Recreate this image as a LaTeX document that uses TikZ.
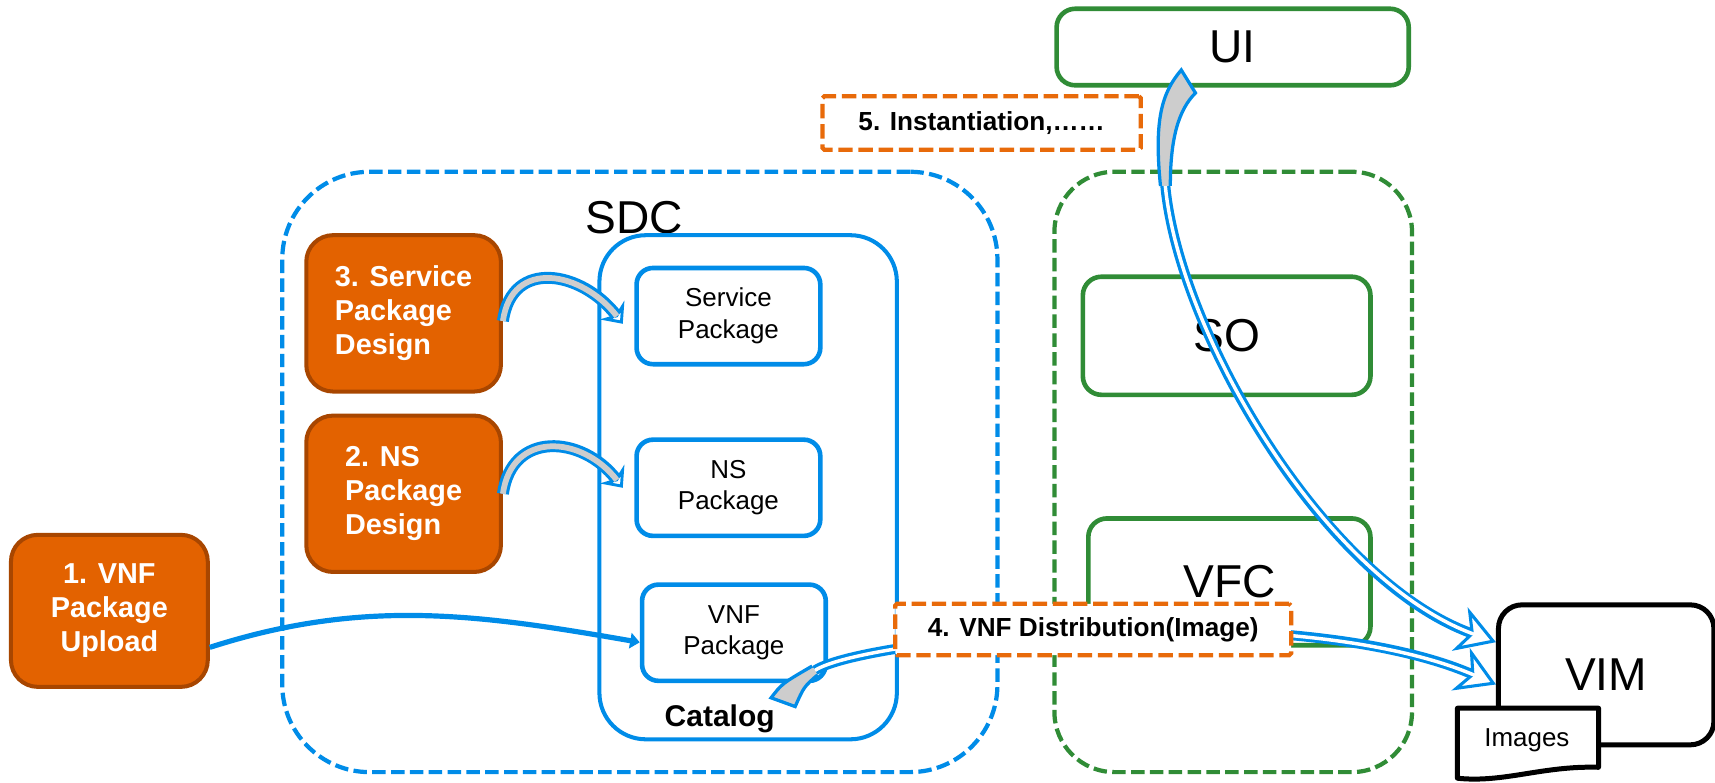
\documentclass[tikz,border=0pt]{standalone}
\usepackage{fontspec}
\setmainfont{Liberation Sans}
\usetikzlibrary{arrows.meta,positioning}
\definecolor{sdcblue}{RGB}{0,140,232}
\definecolor{ogreen}{RGB}{48,140,54}
\definecolor{stepfill}{RGB}{227,98,0}
\definecolor{stepline}{RGB}{168,70,0}
\definecolor{noteorange}{RGB}{232,106,10}
\definecolor{bandgray}{RGB}{205,205,205}

\begin{document}
\begin{tikzpicture}[x=0.02cm,y=-0.02cm,>=Stealth,semithick,node distance=3.14cm]
			\tikzstyle{stepbox}=[draw=stepline,fill=stepfill,line width=2.1pt,rounded corners=0.49cm,text=white,font=\bfseries\fontsize{15}{17.7}\selectfont,align=left,minimum width=3.56cm,minimum height=2.86cm]
			\tikzstyle{pkgbox}=[draw=sdcblue,fill=white,line width=2.4pt,rounded corners=0.3cm,font=\fontsize{13.5}{16.5}\selectfont,align=center,minimum width=3.36cm,minimum height=1.76cm]
			\tikzstyle{greenbox}=[draw=ogreen,fill=white,line width=2.4pt,rounded corners=0.34cm,font=\fontsize{24}{28}\selectfont]
			\tikzstyle{notebox}=[draw=noteorange,fill=white,line width=2.2pt,dash pattern=on 7.5pt off 3pt,rounded corners=1pt,font=\bfseries\fontsize{13.6}{16}\selectfont]
			\tikzstyle{bandarrow}=[draw=bandgray,line width=3pt,shorten >=5pt,preaction={draw=sdcblue,line width=6.2pt,shorten >=0pt,-{Stealth[fill=white,length=9pt,width=16pt,inset=3pt,line width=1.6pt]}}]
			\tikzstyle{longarrow}=[draw=white,line width=1.8pt,shorten >=12pt,preaction={draw=sdcblue,line width=5.2pt,shorten >=0pt,-{Stealth[fill=white,length=20pt,width=24pt,inset=6pt,line width=1.6pt]}}]
			\tikzstyle{wedge}=[fill=bandgray,draw=sdcblue,line width=1.7pt]
			\useasboundingbox (0,0) rectangle (1568,715);
			% SDC side
			\node[draw=sdcblue,line width=2.2pt,dash pattern=on 7pt off 2.8pt,rounded corners=1.6cm,minimum width=13.08cm,minimum height=10.98cm] (sdc) at (585,431.5) {};
			\node[font=\fontsize{24}{28}\selectfont] (sdclabel) at (580,199) {SDC};
			\node[draw=sdcblue,line width=2.1pt,rounded corners=0.85cm,minimum width=5.44cm,minimum height=9.22cm] (catalog) at (684,445.5) {};
			\node[font=\bfseries\fontsize{15.6}{18}\selectfont] (catlabel) at (658,657) {Catalog};
			\node[pkgbox] (svcpkg) at (666,289) {Service\\Package};
			\node[pkgbox,below of=svcpkg] (nspkg) {NS\\Package};
			\node[pkgbox] (vnfpkg) at (671,578.5) {VNF\\Package};
			\node[stepbox] (s3) at (369,286.5) {3. Service\\Package\\Design};
			\node[stepbox,below of=s3,node distance=3.3cm] (s2) {2. NS\\Package\\Design};
			\node[stepbox,align=center,minimum width=3.6cm,minimum height=2.78cm] (s1) at (100,558.5) {1. VNF\\Package\\Upload};
			% orchestration side
			\node[draw=ogreen,line width=2.2pt,dash pattern=on 7pt off 2.8pt,rounded corners=1.1cm,minimum width=6.54cm,minimum height=10.98cm] (orch) at (1127.5,431.5) {};
			\node[greenbox,minimum width=6.44cm,minimum height=1.4cm] (ui) at (1127,43) {UI};
			\node[greenbox,minimum width=5.26cm,minimum height=2.16cm] (so) at (1121.5,307) {SO};
			\node[greenbox,minimum width=5.16cm,minimum height=2.32cm] (vfc) at (1124,532) {VFC};
			\node[draw,line width=2.6pt,rounded corners=0.43cm,font=\fontsize{24}{28}\selectfont,minimum width=3.94cm,minimum height=2.56cm] (vim) at (1468.5,617) {VIM};
			\node[font=\fontsize{13.5}{16}\selectfont,minimum width=2.56cm,minimum height=1.26cm] (images) at (1397,679.5) {};
			\filldraw[fill=white,line width=2.6pt,line join=round] (images.north west) -- (images.north east) -- ([yshift=5.7pt]images.south east) .. controls (1410,700) and (1375,716) .. (images.south west) -- cycle;
			\node[font=\fontsize{13.5}{16}\selectfont] (imgtext) at (1396,677) {Images};
			% connectors
			\coordinate (cattail) at (745,613);
			\coordinate (uitail) at (1065,165);
			\draw[draw=sdcblue,line width=2.7pt,-{Triangle[length=5pt,width=8pt]}] ([yshift=-19pt]s1.east) .. controls +(140,-45) and +(-149,-26) .. ([yshift=-5pt]vnfpkg.west);
			\draw[bandarrow] ([yshift=-4pt]s3.east) .. controls +(8,-58) and +(-37,-48) .. ([xshift=-6pt,yshift=-4pt]svcpkg.west);
			\draw[bandarrow] (s2.east) .. controls +(8,-58) and +(-37,-48) .. ([xshift=-6pt]nspkg.west);
			\draw[longarrow] (cattail) .. controls (790,583) and (1180,545) .. ([yshift=-5pt]vim.west);
			\draw[longarrow] (uitail) .. controls (1075,300) and (1210,530) .. ([yshift=17pt]vim.west);
			\filldraw[wedge] (747.5,617) .. controls (735,628) .. (727,646) -- (705,638) .. controls (715,625) .. (742.5,609);
			\filldraw[wedge] (1061,170) .. controls (1055,110) and (1062,85) .. (1080,64) -- (1093,85) .. controls (1078,100) and (1070,125) .. (1070,170);
			\node[notebox,minimum width=5.82cm,minimum height=0.98cm] (inst) at (897.5,112.5) {5. Instantiation,……};
			\node[notebox,minimum width=7.24cm,minimum height=0.94cm] (dist) at (999.5,575.5) {4. VNF Distribution(Image)};
		\end{tikzpicture}
\end{document}
